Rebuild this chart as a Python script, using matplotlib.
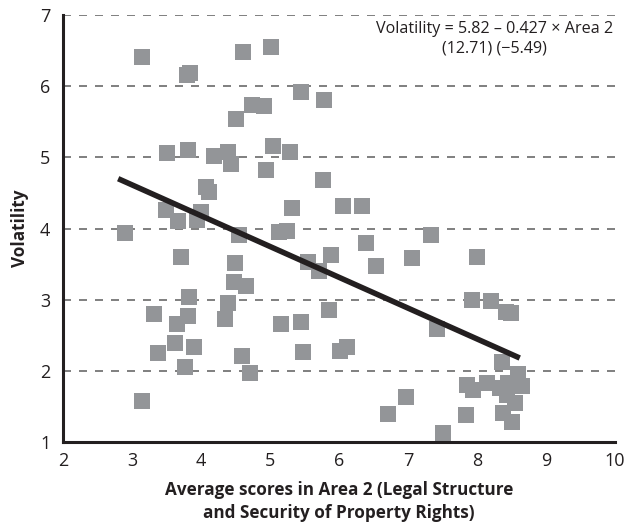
import matplotlib
matplotlib.use('Agg')
import matplotlib.pyplot as plt

plt.rcParams['font.family'] = ['Open Sans', 'DejaVu Sans']

# Area 2 scores (x) and volatility (y)
area2 = [3.15, 3.80, 3.84, 4.61, 5.01, 5.45, 5.78, 4.74, 4.91, 4.51,
         3.51, 3.81, 4.19, 4.39, 4.43, 5.04, 5.29, 4.94, 5.77, 5.32,
         6.06, 6.33, 4.07, 4.12, 3.49, 3.67, 4.00, 3.94, 2.90, 4.55,
         3.71, 4.49, 4.48, 4.65, 3.83, 3.32, 3.81, 3.65, 4.39, 4.35,
         3.62, 3.38, 3.90, 4.59, 3.77, 4.71, 3.14, 5.13, 5.25, 6.39,
         7.33, 5.55, 5.88, 5.71, 6.54, 7.06, 5.86, 5.16, 5.45, 7.42,
         5.48, 6.01, 6.12, 6.97, 6.71, 7.51, 8.00, 7.93, 8.20, 8.42,
         8.49, 8.36, 8.59, 7.86, 7.94, 8.14, 8.33, 8.45, 8.65, 8.43,
         8.55, 8.38, 8.51, 7.84]
volatility = [6.41, 6.16, 6.19, 6.48, 6.55, 5.92, 5.81, 5.74, 5.72, 5.54,
              5.06, 5.10, 5.02, 5.08, 4.91, 5.16, 5.08, 4.82, 4.68, 4.29,
              4.32, 4.32, 4.58, 4.51, 4.26, 4.11, 4.23, 4.12, 3.94, 3.91,
              3.60, 3.52, 3.25, 3.19, 3.04, 2.80, 2.77, 2.66, 2.96, 2.73,
              2.39, 2.25, 2.34, 2.21, 2.06, 1.97, 1.58, 3.95, 3.97, 3.80,
              3.91, 3.53, 3.63, 3.40, 3.47, 3.59, 2.86, 2.66, 2.69, 2.59,
              2.27, 2.28, 2.34, 1.63, 1.40, 1.13, 3.60, 3.00, 2.98, 2.83,
              2.81, 2.13, 1.96, 1.80, 1.73, 1.83, 1.76, 1.83, 1.78, 1.66,
              1.55, 1.41, 1.28, 1.38]

# fitted line end points
fit_x = [2.80, 8.62]
fit_y = [4.70, 2.18]

xticks = [2, 3, 4, 5, 6, 7, 8, 9, 10]
yticks = [1, 2, 3, 4, 5, 6, 7]

fig = plt.figure(figsize=(6.38, 5.27), dpi=100)
ax = fig.add_axes([0.0987, 0.1613, 0.8652, 0.8102])

for yv in yticks[1:]:
    ax.axhline(yv, color='#6a6a6a', lw=1.2, ls=(0, (4.8, 4.8)), zorder=1)

ax.scatter(area2, volatility, marker='s', s=133, color='#939598',
           linewidths=0, zorder=2)
ax.plot(fit_x, fit_y, color='#231f20', lw=4, solid_capstyle='butt', zorder=3)

ax.set_xlim(2, 10)
ax.set_ylim(1, 7)
ax.set_xticks(xticks)
ax.set_yticks(yticks)
ax.tick_params(length=0, labelsize=13, colors='#231f20')
ax.tick_params(axis='x', pad=7)
ax.tick_params(axis='y', pad=9)
ax.spines['top'].set_visible(False)
ax.spines['right'].set_visible(False)
ax.spines['left'].set_linewidth(2.2)
ax.spines['bottom'].set_linewidth(2.2)
ax.spines['left'].set_color('#231f20')
ax.spines['bottom'].set_color('#231f20')

ax.set_xlabel('Average scores in Area 2 (Legal Structure\nand Security of Property Rights)',
              fontsize=12.3, fontweight='bold', color='#231f20', labelpad=8,
              linespacing=1.35)
ax.set_ylabel('Volatility', fontsize=12.3, fontweight='bold', color='#231f20',
              labelpad=8)

ax.text(0.781, 0.985, 'Volatility = 5.82 \u2013 0.427 \u00d7 Area 2\n(12.71) (\u22125.49)',
        transform=ax.transAxes, ha='center', va='top', fontsize=11.6,
        color='#231f20', linespacing=1.25, multialignment='center')

fig.savefig('out.png', dpi=100)
